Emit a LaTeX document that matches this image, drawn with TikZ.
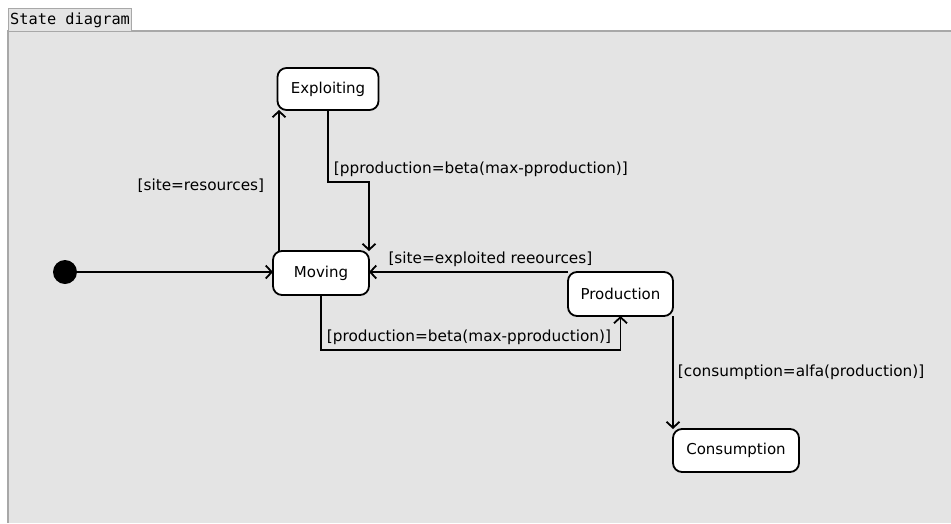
\documentclass[tikz,border=0pt]{standalone}
\usepackage{fontspec}
\setmainfont{DejaVu Sans}
\setmonofont{DejaVu Sans Mono}
\usetikzlibrary{arrows.meta}
\definecolor{framebg}{HTML}{E4E4E4}
\definecolor{frameline}{HTML}{A8A8A8}
\tikzset{
  state/.style={draw, line width=1.8pt, fill=white, rounded corners=9pt,
    font=\fontsize{15}{17}\selectfont, inner sep=0pt, outer sep=0pt},
  trans/.style={line width=1.8pt, -{Straight Barb[length=6pt,width=13pt,line width=1.8pt]}},
  guard/.style={font=\fontsize{15.3}{17}\selectfont, inner sep=4pt}
}
\begin{document}
\begin{tikzpicture}[x=1pt,y=-1pt]
    \useasboundingbox (0,0) rectangle (951,523);
    % frame and tab
    \fill[framebg] (8,31) rectangle (951,523);
    \draw[frameline, line width=1.4pt] (951,31) -- (8,31) -- (8,523);
    \draw[frameline, fill=framebg, line width=1pt] (8,31) rectangle (131,8);
    \node[anchor=west, inner sep=0pt, font=\ttfamily\fontsize{15.3}{17}\selectfont]
      (T) at (10,20) {State diagram};
    % states
    \node[circle, fill=black, minimum size=24pt, inner sep=0pt] (I) at (65,272) {};
    \node[state, minimum width=101pt, minimum height=42pt] (E) at (328,89) {Exploiting};
    \node[state, minimum width=96pt, minimum height=44pt] (M) at (321,273) {Moving};
    \node[state, minimum width=105pt, minimum height=44pt] (P) at (620.5,294) {Production};
    \node[state, minimum width=126pt, minimum height=43pt] (C) at (736,450.5) {Consumption};
    % transitions
    \draw[trans] (I) -- (M.west |- I);
    \draw[trans] ([xshift=6pt]M.north west) -- ([xshift=6pt]M.north west |- E.south)
      node[midway, guard, left, xshift=-10pt, yshift=-5pt] {[site=resources]};
    \draw[trans] (E.south) -- ++(0,72) node[guard, above right, xshift=1pt] {[pproduction=beta(max-pproduction)]}
      -| (M.north east);
    \draw[trans] (P.north west) -- (M.east |- P.north west)
      node[pos=0.39, guard, above] {[site=exploited reeources]};
    \draw[trans] (M.south) -- ++(0,55) node[guard, above right, xshift=1pt] {[production=beta(max-pproduction)]}
      -| (P.south);
    \draw[trans] (P.south east) -- (P.south east |- C.north)
      node[midway, guard, right] {[consumption=alfa(production)]};
  \end{tikzpicture}
\end{document}
